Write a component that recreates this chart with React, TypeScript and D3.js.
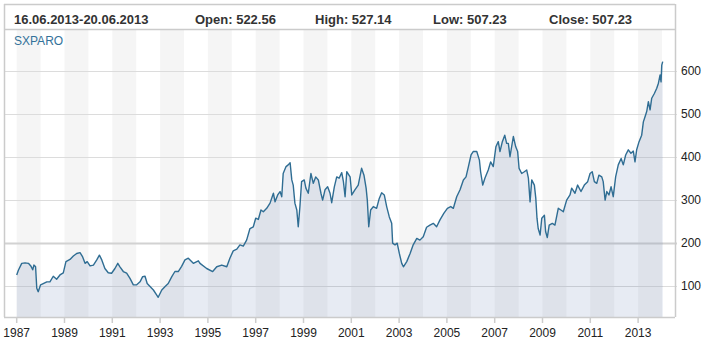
import { useRef, useEffect } from 'react';
import * as d3 from 'd3';

const seriesName = 'SXPARO';
const headerItems = ['16.06.2013-20.06.2013', 'Open: 522.56', 'High: 527.14', 'Low: 507.23', 'Close: 507.23'];

// decimal year of each reading, and index level
const years = [
  1987.0, 1987.07, 1987.21, 1987.35, 1987.49, 1987.59, 1987.67, 1987.72, 1987.79, 1987.84, 1987.9,
  1988.0, 1988.11, 1988.26, 1988.39, 1988.53, 1988.67, 1988.81, 1988.95,
  1989.06, 1989.23, 1989.37, 1989.51, 1989.65, 1989.76, 1989.86, 1989.95,
  1990.07, 1990.21, 1990.35, 1990.46, 1990.56, 1990.69, 1990.83, 1990.97,
  1991.11, 1991.23, 1991.32, 1991.46, 1991.6, 1991.74, 1991.88,
  1992.02, 1992.16, 1992.27, 1992.37, 1992.46, 1992.58, 1992.72, 1992.86, 1992.92,
  1993.07, 1993.21, 1993.34, 1993.49, 1993.62, 1993.76, 1993.9,
  1994.04, 1994.18, 1994.39, 1994.6, 1994.67, 1994.95,
  1995.2, 1995.37, 1995.58, 1995.79, 1995.92,
  1996.06, 1996.21, 1996.34, 1996.48, 1996.62, 1996.76, 1996.9,
  1997.0, 1997.11, 1997.22, 1997.32, 1997.46, 1997.6, 1997.74, 1997.81, 1997.92,
  1998.02, 1998.09, 1998.15, 1998.27, 1998.36, 1998.44, 1998.51, 1998.57, 1998.64, 1998.72, 1998.78, 1998.85, 1998.92,
  1999.03, 1999.1, 1999.2, 1999.31, 1999.41, 1999.51, 1999.62, 1999.73, 1999.8, 1999.9,
  2000.01, 2000.11, 2000.18, 2000.29, 2000.39, 2000.49, 2000.6, 2000.67, 2000.74, 2000.81, 2000.95,
  2001.02, 2001.15, 2001.29, 2001.43, 2001.53, 2001.62, 2001.67, 2001.73, 2001.81, 2001.92,
  2002.06, 2002.17, 2002.27, 2002.38, 2002.48, 2002.59, 2002.69, 2002.73, 2002.83, 2002.92,
  2003.01, 2003.11, 2003.18, 2003.32, 2003.46, 2003.59, 2003.74, 2003.87,
  2004.01, 2004.15, 2004.29, 2004.43, 2004.57, 2004.71, 2004.87,
  2005.02, 2005.16, 2005.27, 2005.41, 2005.55, 2005.69, 2005.8, 2005.9,
  2006.01, 2006.1, 2006.25, 2006.36, 2006.41, 2006.5, 2006.59, 2006.73, 2006.83, 2006.94,
  2007.05, 2007.15, 2007.22, 2007.32, 2007.42, 2007.5, 2007.57, 2007.64, 2007.78, 2007.88, 2007.96,
  2008.02, 2008.13, 2008.24, 2008.34, 2008.41, 2008.48, 2008.55, 2008.66, 2008.72, 2008.77, 2008.82, 2008.9, 2008.97,
  2009.08, 2009.13, 2009.2, 2009.28, 2009.41, 2009.52, 2009.66, 2009.77, 2009.87,
  2010.01, 2010.15, 2010.22, 2010.36, 2010.47, 2010.61, 2010.75, 2010.89, 2010.99,
  2011.08, 2011.17, 2011.27, 2011.36, 2011.48, 2011.54, 2011.62, 2011.69, 2011.78, 2011.87, 2011.96,
  2012.06, 2012.17, 2012.29, 2012.38, 2012.48, 2012.59, 2012.7, 2012.8, 2012.87, 2012.94,
  2013.04, 2013.15, 2013.22, 2013.29, 2013.36, 2013.43, 2013.5, 2013.57, 2013.68, 2013.78, 2013.85, 2013.92, 2013.96, 2013.99, 2014.03,
];
const values = [
  125, 136, 152, 153, 152, 146, 137, 148, 144, 94, 86,
  102, 105, 109, 109, 122, 115, 125, 130,
  156, 161, 169, 175, 177, 167, 152, 156,
  146, 148, 160, 171, 160, 140, 130, 129,
  140, 152, 144, 133, 129, 117, 102,
  102, 109, 121, 122, 105, 98, 90, 78, 73,
  90, 98, 105, 121, 133, 133, 145,
  160, 164, 152, 158, 152, 140,
  133, 144, 148, 144, 164,
  181, 185, 195, 192, 206, 233, 237,
  257, 254, 276, 272, 280, 292, 315, 295, 311,
  319, 307, 361, 377, 381, 386, 346, 334, 292, 276, 237, 284, 342,
  346, 327, 315, 361, 338, 353, 346, 315, 299, 323,
  330, 315, 293, 330, 353, 350, 363, 342, 307, 365, 353,
  311, 323, 334, 373, 357, 327, 299, 237, 276, 284,
  280, 303, 316, 311, 284, 260, 245, 199, 195, 199,
  175, 152, 144, 156, 175, 195, 210, 206,
  214, 236, 241, 245, 237, 253, 268,
  280, 284, 280, 307, 323, 346, 353, 377,
  404, 412, 412, 392, 365, 334, 350, 369, 388, 377,
  423, 435, 412, 435, 450, 431, 431, 400, 447, 423, 412,
  373, 361, 365, 369, 350, 295, 346, 334, 303, 257, 233, 218, 257,
  264, 226, 212, 241, 245, 241, 280, 276, 272,
  299, 311, 327, 315, 334, 319, 334, 342, 361,
  365, 342, 338, 357, 353, 342, 299, 319, 311, 330, 307,
  353, 381, 396, 381, 404, 416, 408, 413, 388, 416,
  435, 450, 481, 493, 505, 528, 509, 536, 547, 559, 571, 590, 574, 613, 621,
];

const yTicks = [100, 200, 300, 400, 500, 600];
const xTickYears = d3.range(1987, 2014, 2);

export default function App() {
  const svgRef = useRef<SVGSVGElement>(null);

  useEffect(() => {
    if (!svgRef.current) return;
    const svg = d3.select(svgRef.current);
    svg.selectAll('*').remove();

    const frame = { left: 4, right: 675, top: 4, header: 29, bottom: 317 };
    const border = '#cbcbcb';

    const x = d3.scaleLinear().domain([1987, 2014]).range([16.7, 662]);
    const y = d3.scaleLinear().domain([0, 700]).range([328.7, 27.7]);

    // alternating year stripes
    svg.append('g')
      .selectAll('rect')
      .data(xTickYears)
      .join('rect')
      .attr('x', d => x(d))
      .attr('width', d => x(d + 1) - x(d))
      .attr('y', frame.header)
      .attr('height', frame.bottom - frame.header)
      .attr('fill', '#f5f5f5');

    // horizontal grid
    svg.append('g')
      .selectAll('line')
      .data(yTicks)
      .join('line')
      .attr('x1', frame.left)
      .attr('x2', frame.right + 2)
      .attr('y1', d => Math.round(y(d)) + 0.5)
      .attr('y2', d => Math.round(y(d)) + 0.5)
      .attr('stroke', d => (d === 200 ? '#d2d2d2' : '#dcdcdc'))
      .attr('stroke-width', d => (d === 200 ? 2 : 1));

    const data = years.map((t, i) => ({ t, v: values[i] }));

    const area = d3.area<{ t: number; v: number }>()
      .x(d => x(d.t))
      .y0(frame.bottom)
      .y1(d => y(d.v));

    svg.append('path')
      .datum(data)
      .attr('d', area)
      .attr('fill', 'rgba(40,70,150,0.11)');

    const line = d3.line<{ t: number; v: number }>()
      .x(d => x(d.t))
      .y(d => y(d.v));

    svg.append('path')
      .datum(data)
      .attr('d', line)
      .attr('fill', 'none')
      .attr('stroke', '#2f6d93')
      .attr('stroke-width', 1.4)
      .attr('stroke-linejoin', 'round');

    // frame
    const fr = svg.append('g').attr('stroke', border).attr('stroke-width', 1.5).attr('fill', 'none');
    fr.append('line').attr('x1', frame.left).attr('x2', frame.right).attr('y1', frame.top + 0.5).attr('y2', frame.top + 0.5);
    fr.append('line').attr('x1', frame.left).attr('x2', frame.right).attr('y1', frame.header + 0.5).attr('y2', frame.header + 0.5);
    fr.append('line').attr('x1', frame.left).attr('x2', frame.right).attr('y1', frame.bottom + 0.5).attr('y2', frame.bottom + 0.5);
    fr.append('line').attr('x1', frame.left + 0.5).attr('x2', frame.left + 0.5).attr('y1', frame.top).attr('y2', frame.bottom);
    fr.append('line').attr('x1', frame.right + 0.5).attr('x2', frame.right + 0.5).attr('y1', frame.top).attr('y2', frame.bottom);

    // header row
    const headerX = [14, 195, 315, 433, 549];
    svg.append('g')
      .selectAll('text')
      .data(headerItems)
      .join('text')
      .attr('x', (_, i) => headerX[i])
      .attr('y', 24)
      .attr('font-size', '13px')
      .attr('font-weight', 'bold')
      .attr('fill', '#333')
      .text(d => d);

    svg.append('text')
      .attr('x', 14)
      .attr('y', 45)
      .attr('font-size', '12px')
      .attr('fill', '#33729a')
      .text(seriesName);

    // x axis ticks + labels
    const xa = svg.append('g');
    xa.selectAll('line')
      .data(xTickYears)
      .join('line')
      .attr('x1', d => x(d))
      .attr('x2', d => x(d))
      .attr('y1', frame.bottom)
      .attr('y2', frame.bottom + 6)
      .attr('stroke', '#cccccc')
      .attr('stroke-width', 1.5);
    xa.selectAll('text')
      .data(xTickYears)
      .join('text')
      .attr('x', d => x(d))
      .attr('y', 337)
      .attr('text-anchor', 'middle')
      .attr('font-size', '12px')
      .attr('fill', '#222')
      .text(d => `${d}`);

    // right y labels
    svg.append('g')
      .selectAll('text')
      .data(yTicks)
      .join('text')
      .attr('x', 681)
      .attr('y', d => y(d))
      .attr('dy', '0.35em')
      .attr('font-size', '12px')
      .attr('fill', '#222')
      .text(d => `${d}`);
  }, []);

  return (
    <svg
      ref={svgRef}
      width={706}
      height={351}
      style={{ position: 'absolute', left: 0, top: 0, fontFamily: 'Arial, "Liberation Sans", sans-serif', background: '#fff' }}
    />
  );
}
